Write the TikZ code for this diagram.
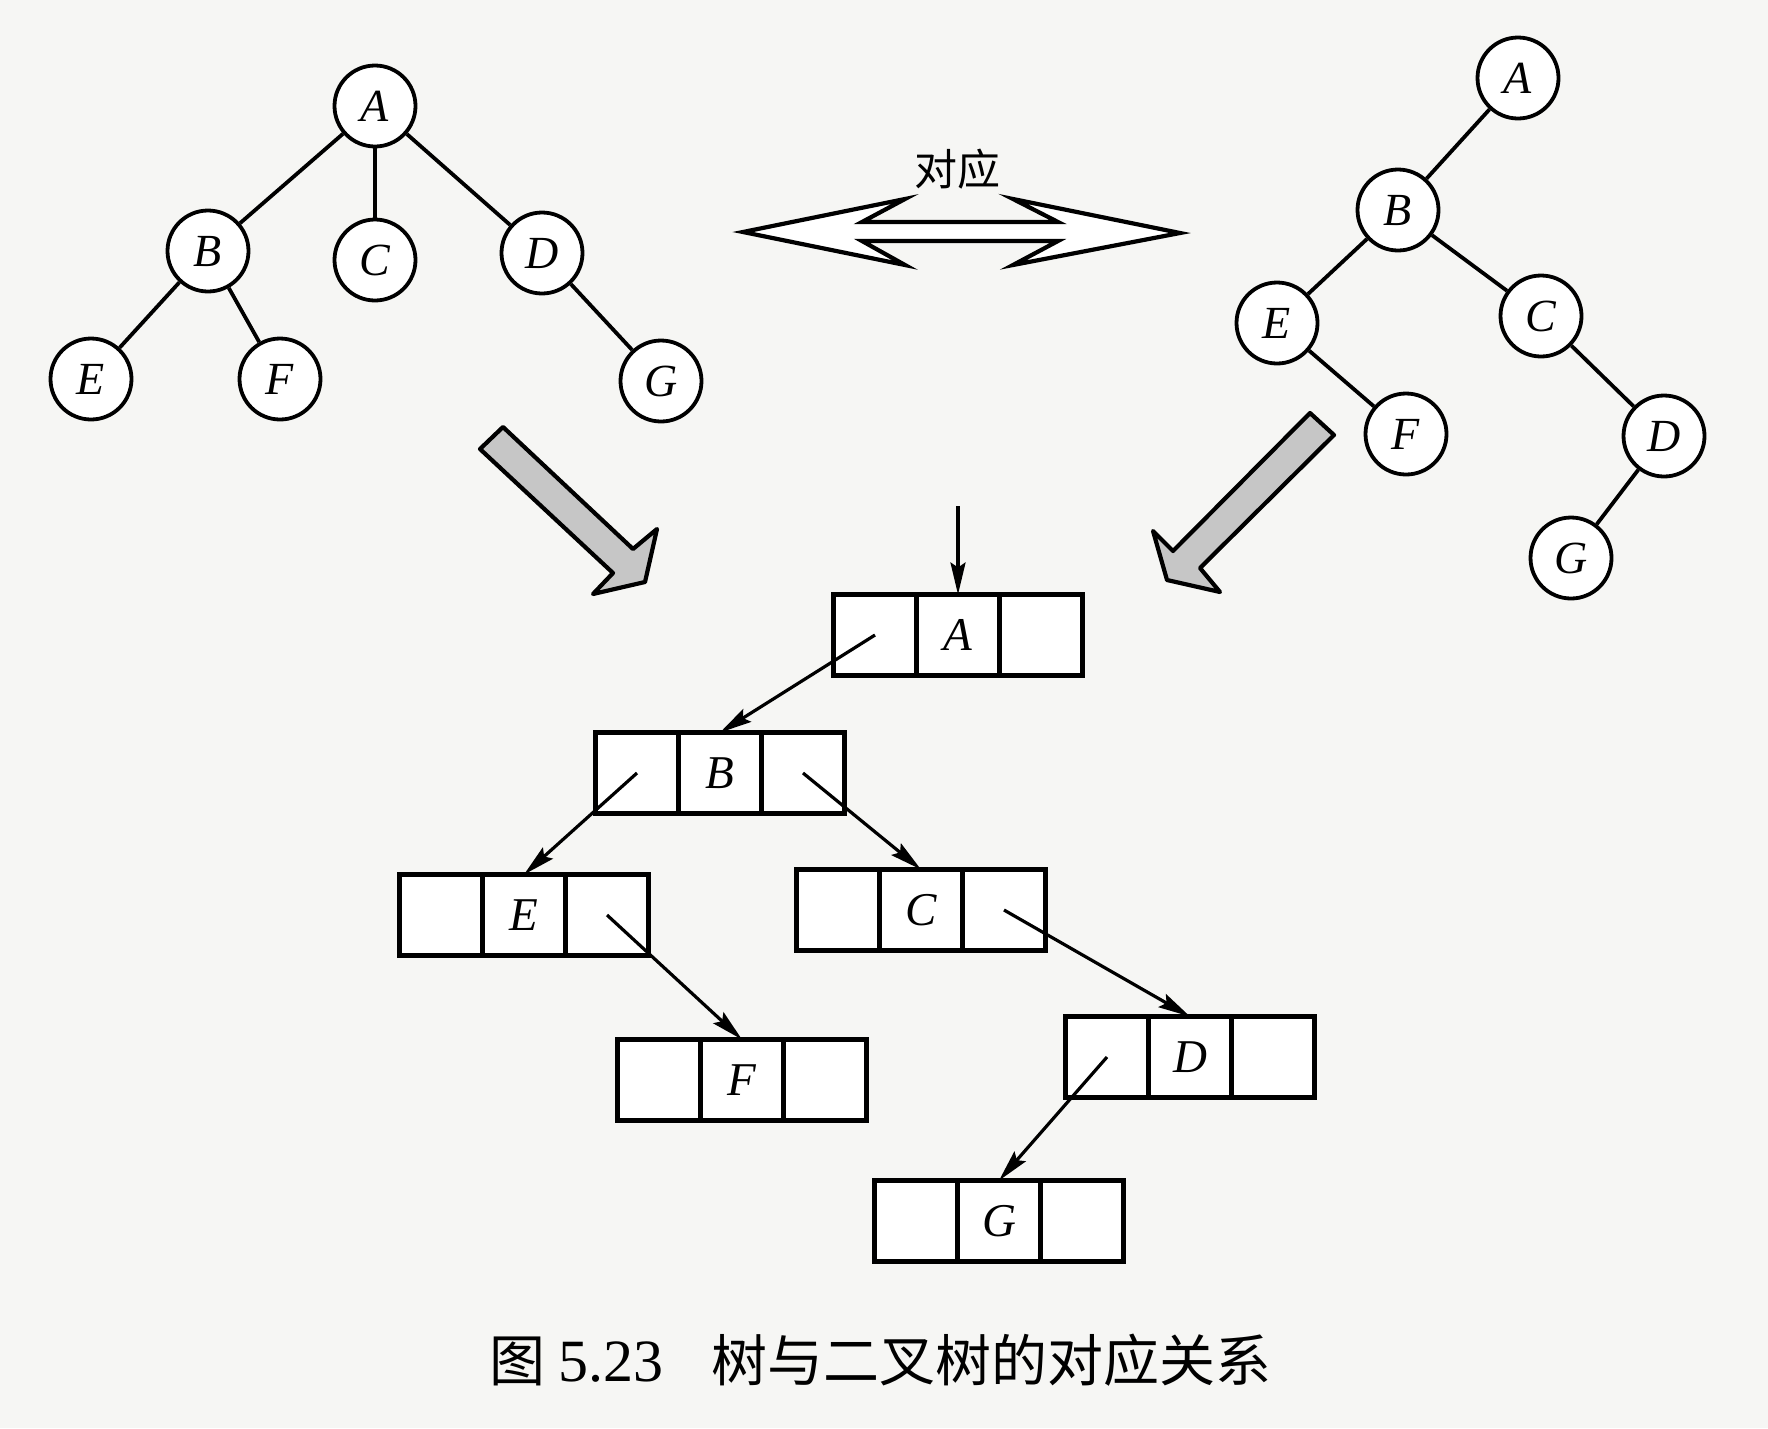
\documentclass[tikz,border=0pt]{standalone}
\usepackage{fontspec}
\setmainfont{Liberation Serif}
\newfontfamily\cjk{Noto Sans CJK SC}
\usetikzlibrary{arrows.meta}
\definecolor{paper}{RGB}{246,246,244}
\definecolor{arrowgray}{RGB}{198,198,198}
\begin{document}
\begin{tikzpicture}[x=1pt,y=-1pt,
  tnode/.style={circle,draw,line width=3.8pt,minimum size=81pt,inner sep=0pt,fill=white,
    font=\fontsize{46}{46}\selectfont\itshape},
  tedge/.style={line width=3.8pt},
  cell/.style={rectangle,draw,line width=4.2pt,minimum width=83pt,minimum height=81pt,
    inner sep=0pt,outer sep=0pt,fill=white,font=\fontsize{47}{47}\selectfont\itshape},
  link/.style={line width=3.2pt,-{Stealth[length=32pt,width=15pt,inset=5pt]}},
  bigarrow/.style={line width=4.2pt,line join=miter,fill=white},
  grayarrow/.style={line width=4.2pt,line join=round,fill=arrowgray}]
\fill[paper] (0,0) rectangle (1768,1428);
\useasboundingbox (0,0) rectangle (1768,1428);

% ---- left tree ----
\node[tnode] (lA) at (375,106) {A};
\node[tnode] (lB) at (208,251) {B};
\node[tnode] (lC) at (375,260) {C};
\node[tnode] (lD) at (542,253) {D};
\node[tnode] (lE) at (91,379) {E};
\node[tnode] (lF) at (280,379) {F};
\node[tnode] (lG) at (661,381) {G};
\draw[tedge] (lA) -- (lB);
\draw[tedge] (lA) -- (lC);
\draw[tedge] (lA) -- (lD);
\draw[tedge] (lB) -- (lE);
\draw[tedge] (lB) -- (lF);
\draw[tedge] (lD) -- (lG);

% ---- right tree ----
\node[tnode] (rA) at (1518,78) {A};
\node[tnode] (rB) at (1398,210) {B};
\node[tnode] (rE) at (1277,323) {E};
\node[tnode] (rC) at (1541,316) {C};
\node[tnode] (rF) at (1406,434) {F};
\node[tnode] (rD) at (1664,436) {D};
\node[tnode] (rG) at (1571,558) {G};
\draw[tedge] (rA) -- (rB);
\draw[tedge] (rB) -- (rE);
\draw[tedge] (rB) -- (rC);
\draw[tedge] (rE) -- (rF);
\draw[tedge] (rC) -- (rD);
\draw[tedge] (rD) -- (rG);

% ---- double arrow ----
\node[font=\cjk\fontsize{43}{43}\selectfont,inner sep=0pt] (dy) at (957,169) {对应};
\draw[bigarrow] (743,232) -- (905,199) -- (862,222) -- (1058,222) -- (1013,199)
  -- (1180,233) -- (1013,265) -- (1058,241) -- (862,241) -- (905,265) -- cycle;

% ---- gray arrows ----
\draw[grayarrow] (480,449) -- (503,427) -- (633,549) -- (657,529) -- (645,582)
  -- (593,594) -- (613,573) -- cycle;
\draw[grayarrow] (1310,413) -- (1334,435) -- (1200,568) -- (1220,592) -- (1167,580)
  -- (1153,531) -- (1173,551) -- cycle;

% ---- linked binary tree ----
\node[cell] (bA) at (958,635) {A};
\node[cell,anchor=east] (bAl) at (bA.west) {};
\node[cell,anchor=west] (bAr) at (bA.east) {};
\node[cell] (bB) at (720,773) {B};
\node[cell,anchor=east] (bBl) at (bB.west) {};
\node[cell,anchor=west] (bBr) at (bB.east) {};
\node[cell] (bE) at (524,915) {E};
\node[cell,anchor=east] (bEl) at (bE.west) {};
\node[cell,anchor=west] (bEr) at (bE.east) {};
\node[cell] (bC) at (921,910) {C};
\node[cell,anchor=east] (bCl) at (bC.west) {};
\node[cell,anchor=west] (bCr) at (bC.east) {};
\node[cell] (bF) at (742,1080) {F};
\node[cell,anchor=east] (bFl) at (bF.west) {};
\node[cell,anchor=west] (bFr) at (bF.east) {};
\node[cell] (bD) at (1190,1057) {D};
\node[cell,anchor=east] (bDl) at (bD.west) {};
\node[cell,anchor=west] (bDr) at (bD.east) {};
\node[cell] (bG) at (999,1221) {G};
\node[cell,anchor=east] (bGl) at (bG.west) {};
\node[cell,anchor=west] (bGr) at (bG.east) {};

\coordinate (root) at (958,506);
\draw[link] (root) -- (bA.north);
\draw[link] (bAl.center) -- (bB.north);
\draw[link] (bBl.center) -- (bE.north);
\draw[link] (bBr.center) -- (bC.north);
\draw[link] (bEr.center) -- (bF.north);
\draw[link] (bCr.center) -- (bD.north);
\draw[link] (bDl.center) -- (bG.north);

% ---- caption ----
\node[anchor=base west,inner sep=0pt,font=\cjk\fontsize{56}{56}\selectfont] (cap1) at (489,1381) {图};
\node[anchor=base west,inner sep=0pt,font=\rmfamily\fontsize{60}{60}\selectfont] (cap2) at (558,1381) {5.23};
\node[anchor=base west,inner sep=0pt,font=\cjk\fontsize{56}{56}\selectfont] (cap3) at (711,1381) {树与二叉树的对应关系};
\end{tikzpicture}
\end{document}
